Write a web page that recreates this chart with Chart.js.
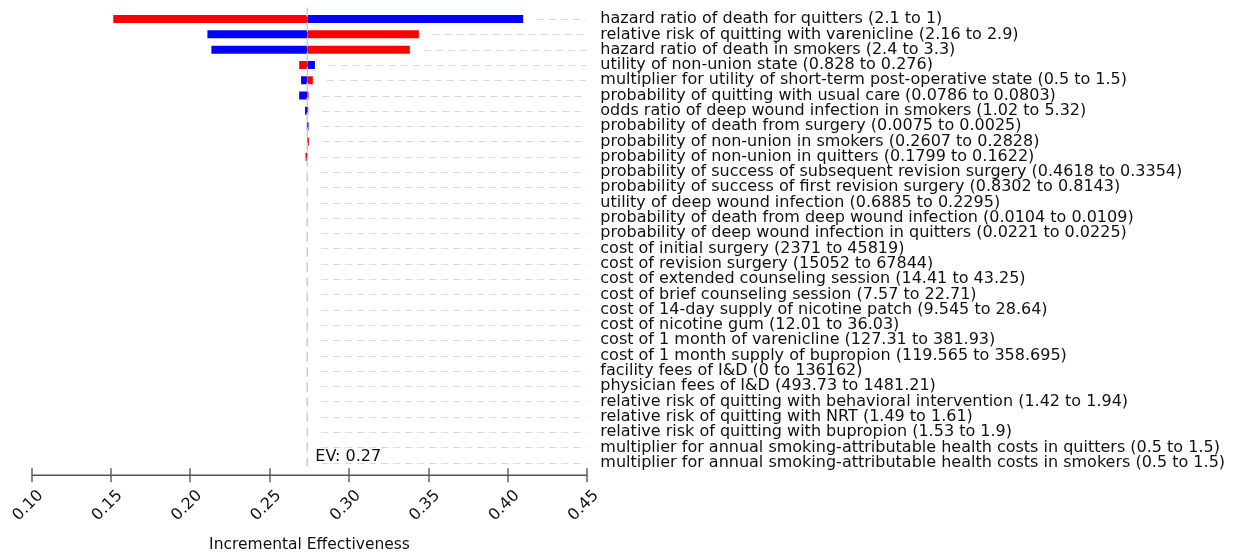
<!DOCTYPE html>
<html>
<head>
<meta charset="utf-8">
<script src="https://cdn.jsdelivr.net/npm/chart.js@4.4.1/dist/chart.umd.min.js"></script>
<style>
  html, body { margin: 0; padding: 0; background: #ffffff; }
  #wrap { width: 1237px; height: 554px; position: relative; }
</style>
</head>
<body>
<div id="wrap"><canvas id="tornado"></canvas></div>
<script>
// One-way sensitivity analysis: incremental effectiveness across each parameter's range
const parameterLabels = [
  'hazard ratio of death for quitters (2.1 to 1)',
  'relative risk of quitting with varenicline (2.16 to 2.9)',
  'hazard ratio of death in smokers (2.4 to 3.3)',
  'utility of non-union state (0.828 to 0.276)',
  'multiplier for utility of short-term post-operative state (0.5 to 1.5)',
  'probability of quitting with usual care (0.0786 to 0.0803)',
  'odds ratio of deep wound infection in smokers (1.02 to 5.32)',
  'probability of death from surgery (0.0075 to 0.0025)',
  'probability of non-union in smokers (0.2607 to 0.2828)',
  'probability of non-union in quitters (0.1799 to 0.1622)',
  'probability of success of subsequent revision surgery (0.4618 to 0.3354)',
  'probability of success of first revision surgery (0.8302 to 0.8143)',
  'utility of deep wound infection (0.6885 to 0.2295)',
  'probability of death from deep wound infection (0.0104 to 0.0109)',
  'probability of deep wound infection in quitters (0.0221 to 0.0225)',
  'cost of initial surgery (2371 to 45819)',
  'cost of revision surgery (15052 to 67844)',
  'cost of extended counseling session (14.41 to 43.25)',
  'cost of brief counseling session (7.57 to 22.71)',
  'cost of 14-day supply of nicotine patch (9.545 to 28.64)',
  'cost of nicotine gum (12.01 to 36.03)',
  'cost of 1 month of varenicline (127.31 to 381.93)',
  'cost of 1 month supply of bupropion (119.565 to 358.695)',
  'facility fees of I&D (0 to 136162)',
  'physician fees of I&D (493.73 to 1481.21)',
  'relative risk of quitting with behavioral intervention (1.42 to 1.94)',
  'relative risk of quitting with NRT (1.49 to 1.61)',
  'relative risk of quitting with bupropion (1.53 to 1.9)',
  'multiplier for annual smoking-attributable health costs in quitters (0.5 to 1.5)',
  'multiplier for annual smoking-attributable health costs in smokers (0.5 to 1.5)'
];

// expected value of the base case
const baseValue = 0.2736;

// result with each parameter at the first bound of its range (red)
const firstBoundResults = [
  0.1514, 0.3439, 0.3382, 0.2685, 0.2771, 0.2744, 0.2742, 0.2733, 0.2746, 0.2725,
  0.2736, 0.2736, 0.2736, 0.2736, 0.2736, 0.2736, 0.2736, 0.2736, 0.2736, 0.2736,
  0.2736, 0.2736, 0.2736, 0.2736, 0.2736, 0.2736, 0.2736, 0.2736, 0.2736, 0.2736
];

// result with each parameter at the second bound of its range (blue)
const secondBoundResults = [
  0.4096, 0.2107, 0.2132, 0.2784, 0.2697, 0.2685, 0.2722, 0.2744, 0.2736, 0.2736,
  0.2736, 0.2736, 0.2736, 0.2736, 0.2736, 0.2736, 0.2736, 0.2736, 0.2736, 0.2736,
  0.2736, 0.2736, 0.2736, 0.2736, 0.2736, 0.2736, 0.2736, 0.2736, 0.2736, 0.2736
];

const axisTicks = [0.10, 0.15, 0.20, 0.25, 0.30, 0.35, 0.40, 0.45];

const FONT = 'DejaVu Sans';

// a parameter with no effect on the result gets no bar
const toSpan = v => (v === baseValue ? null : [baseValue, v]);

const decorations = {
  id: 'tornadoDecorations',
  beforeDatasetsDraw(chart) {
    const { ctx, scales: { x, y } } = chart;
    const lineEnd = x.getPixelForValue(axisTicks[axisTicks.length - 1]) - 1;
    ctx.save();
    ctx.strokeStyle = '#dadada';
    ctx.lineWidth = 1;
    ctx.setLineDash([7, 5]);
    parameterLabels.forEach((_, i) => {
      const yy = Math.round(y.getPixelForValue(i)) + 0.5;
      const reach = Math.max(baseValue, firstBoundResults[i], secondBoundResults[i]);
      const x0 = x.getPixelForValue(reach) + 14;
      ctx.beginPath();
      ctx.moveTo(x0, yy);
      ctx.lineTo(lineEnd, yy);
      ctx.stroke();
    });
    ctx.restore();
  },
  afterDatasetsDraw(chart) {
    const { ctx, chartArea, scales: { x } } = chart;
    const evX = x.getPixelForValue(baseValue);
    ctx.save();
    // base-case reference line
    ctx.strokeStyle = '#cdcdcd';
    ctx.lineWidth = 1.5;
    ctx.setLineDash([9, 6]);
    ctx.beginPath();
    ctx.moveTo(evX, chartArea.top - 4);
    ctx.lineTo(evX, chartArea.bottom - 2);
    ctx.stroke();
    ctx.setLineDash([]);

    // value axis line with ticks crossing it
    const axisY = chartArea.bottom + 5;
    const x0 = x.getPixelForValue(axisTicks[0]);
    const x1 = x.getPixelForValue(axisTicks[axisTicks.length - 1]);
    ctx.strokeStyle = '#8a8a8a';
    ctx.lineWidth = 2;
    axisTicks.forEach(t => {
      const tx = Math.round(x.getPixelForValue(t));
      ctx.beginPath();
      ctx.moveTo(tx, axisY - 7);
      ctx.lineTo(tx, axisY + 7);
      ctx.stroke();
    });
    ctx.strokeStyle = '#555555';
    ctx.lineWidth = 1.6;
    ctx.beginPath();
    ctx.moveTo(x0, axisY);
    ctx.lineTo(x1, axisY);
    ctx.stroke();

    // base-case label
    ctx.fillStyle = '#111111';
    ctx.font = '16px "' + FONT + '"';
    ctx.textAlign = 'left';
    ctx.textBaseline = 'middle';
    ctx.fillText('EV: ' + baseValue.toFixed(2), evX + 8, chartArea.bottom - 13);
    ctx.restore();
  }
};

new Chart(document.getElementById('tornado'), {
  type: 'bar',
  data: {
    labels: parameterLabels,
    datasets: [
      {
        label: 'first bound',
        data: firstBoundResults.map(toSpan),
        backgroundColor: '#ff0000',
        borderWidth: 0,
        inflateAmount: 0,
        barThickness: 8,
        grouped: false
      },
      {
        label: 'second bound',
        data: secondBoundResults.map(toSpan),
        backgroundColor: '#0000ff',
        borderWidth: 0,
        inflateAmount: 0,
        barThickness: 8,
        grouped: false
      }
    ]
  },
  options: {
    indexAxis: 'y',
    responsive: true,
    maintainAspectRatio: false,
    animation: false,
    layout: { padding: { left: 31.7, top: 11.4, right: 0, bottom: 0 } },
    plugins: {
      legend: { display: false },
      tooltip: { enabled: false }
    },
    scales: {
      x: {
        type: 'linear',
        position: 'bottom',
        min: axisTicks[0],
        max: axisTicks[axisTicks.length - 1],
        afterBuildTicks(scale) {
          scale.ticks = axisTicks.map(v => ({ value: v }));
        },
        afterFit(scale) {
          scale.height = 554 - 470.3;
          scale.paddingLeft = 0;
          scale.paddingRight = 0;
        },
        grid: { display: false, drawTicks: false },
        border: { display: false },
        ticks: {
          minRotation: 45,
          maxRotation: 45,
          padding: 16,
          labelOffset: 9,
          color: '#111111',
          font: { family: FONT, size: 16 },
          callback: v => Number(v).toFixed(2)
        },
        title: {
          display: true,
          text: 'Incremental Effectiveness',
          color: '#111111',
          font: { family: FONT, size: 15.5 },
          padding: { top: 4, bottom: 0 }
        }
      },
      y: {
        type: 'category',
        position: 'right',
        offset: true,
        afterFit(scale) {
          scale.width = 1237 - 587.3;
          scale.paddingTop = 0;
          scale.paddingBottom = 0;
        },
        grid: { display: false, drawTicks: false },
        border: { display: false },
        ticks: {
          autoSkip: false,
          padding: 13,
          color: '#111111',
          font: { family: FONT, size: 16 }
        }
      }
    }
  },
  plugins: [decorations]
});
</script>
</body>
</html>
